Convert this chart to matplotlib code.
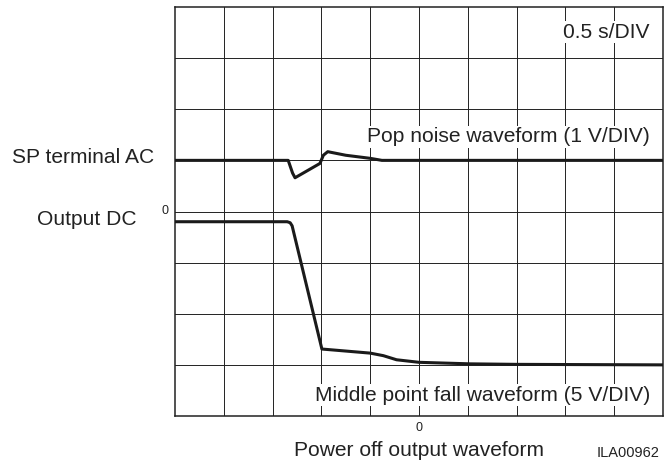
# Power off output waveform (oscilloscope style)
import matplotlib
matplotlib.use("Agg")
import matplotlib.pyplot as plt

plt.rcParams['font.family'] = ['Liberation Sans', 'DejaVu Sans']

# Datos (x en divisiones de tiempo, y en divisiones verticales)
pop_t = [0.0, 2.32, 2.37, 2.41, 2.46, 2.97, 3.04, 3.13, 3.5, 4.0, 4.24, 10.0]
pop_v = [5.0, 5.0, 4.86, 4.75, 4.66, 4.94, 5.1, 5.17, 5.1, 5.04, 5.0, 5.0]

dc_t = [0.0, 2.30, 2.36, 2.40, 3.01, 4.0, 4.27, 4.54, 5.0, 6.05, 7.0, 10.0]
dc_v = [3.80, 3.80, 3.78, 3.72, 1.31, 1.23, 1.18, 1.10, 1.05, 1.02, 1.01, 1.0]

fig = plt.figure(figsize=(6.68, 4.61), dpi=100)
ax = fig.add_axes([175 / 668, 1 - 416 / 461, 488 / 668, 409 / 461])
ax.set_xlim(0, 10)
ax.set_ylim(0, 8)

# Reticula
for i in range(1, 10):
    ax.axvline(i, color="#222222", lw=0.7, zorder=1)
for j in range(1, 8):
    ax.axhline(j, color="#222222", lw=0.7, zorder=1)
ax.set_xticks([])
ax.set_yticks([])
for s in ax.spines.values():
    s.set_linewidth(1.1)
    s.set_color("#222222")

# Trazas
ax.plot(pop_t, pop_v, color="#1a1a1a", lw=2.2, zorder=3, solid_joinstyle="round")
ax.plot(dc_t, dc_v, color="#1a1a1a", lw=2.2, zorder=3, solid_joinstyle="round")

fs = 15.1
box = dict(facecolor="white", edgecolor="none", pad=1.0)
ax.text(9.73, 7.51, "0.5 s/DIV", ha="right", va="center", fontsize=fs, color="#222222", bbox=box, zorder=2)
ax.text(9.73, 5.46, "Pop noise waveform (1 V/DIV)", ha="right", va="center", fontsize=fs, color="#222222", bbox=box, zorder=2)
ax.text(9.73, 0.41, "Middle point fall waveform (5 V/DIV)", ha="right", va="center", fontsize=fs, color="#222222", bbox=box, zorder=2)

ax.text(5.0, -0.23, "0", ha="center", va="center", fontsize=9, color="#222222", clip_on=False)
ax.text(-0.2, 4.01, "0", ha="center", va="center", fontsize=9, color="#222222", clip_on=False)
ax.text(5.0, -0.67, "Power off output waveform", ha="center", va="center", fontsize=fs, color="#222222", clip_on=False)
ax.text(9.92, -0.72, "ILA00962", ha="right", va="center", fontsize=10.5, color="#222222", clip_on=False)
ax.text(-3.34, 5.05, "SP terminal AC", ha="left", va="center", fontsize=fs, color="#222222", clip_on=False)
ax.text(-2.83, 3.84, "Output DC", ha="left", va="center", fontsize=fs, color="#222222", clip_on=False)

fig.savefig("out.png", dpi=100)
